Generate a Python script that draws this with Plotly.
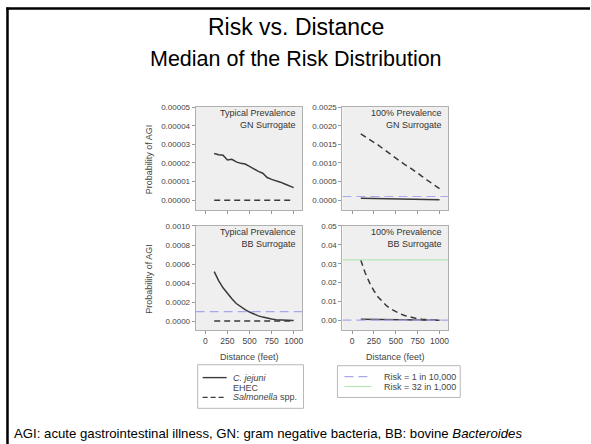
import plotly.graph_objects as go

W, H = 591, 444

# ---------------- data ----------------
distance = [100, 150, 200, 250, 300, 350, 400, 450, 500, 550,
            600, 650, 700, 750, 800, 850, 900, 950, 1000]

# Typical prevalence, GN surrogate
tl_cjejuni = [2.51e-5, 2.44e-5, 2.42e-5, 2.16e-5, 2.20e-5, 2.06e-5, 1.98e-5, 1.94e-5, 1.82e-5, 1.68e-5,
              1.55e-5, 1.45e-5, 1.22e-5, 1.12e-5, 1.06e-5, 0.97e-5, 0.87e-5, 0.76e-5, 0.68e-5]
tl_ehec = [1e-8] * 19
tl_salmonella = [0.0] * 19

# 100% prevalence, GN surrogate
tr_cjejuni = [5.3e-5, 5.0e-5, 4.8e-5, 4.5e-5, 4.3e-5, 4.1e-5, 3.9e-5, 3.7e-5, 3.5e-5, 3.3e-5,
              3.1e-5, 2.9e-5, 2.7e-5, 2.5e-5, 2.3e-5, 2.1e-5, 1.9e-5, 1.7e-5, 1.5e-5]
tr_ehec = [1e-6] * 19
tr_salmonella = [1.78e-3, 1.71e-3, 1.63e-3, 1.56e-3, 1.48e-3, 1.39e-3, 1.30e-3, 1.21e-3, 1.12e-3, 1.04e-3,
                 0.96e-3, 0.89e-3, 0.82e-3, 0.73e-3, 0.64e-3, 0.55e-3, 0.47e-3, 0.39e-3, 0.31e-3]

# Typical prevalence, BB surrogate
bl_cjejuni = [5.2e-4, 4.25e-4, 3.5e-4, 2.9e-4, 2.35e-4, 1.85e-4, 1.5e-4, 1.2e-4, 0.95e-4, 0.72e-4,
              0.55e-4, 0.42e-4, 0.30e-4, 0.22e-4, 0.15e-4, 0.11e-4, 0.08e-4, 0.06e-4, 0.05e-4]
bl_ehec = [1e-7] * 19
bl_salmonella = [0.0] * 19

# 100% prevalence, BB surrogate
br_cjejuni = [6e-4, 5.5e-4, 5e-4, 4.5e-4, 4e-4, 3.5e-4, 3e-4, 2.6e-4, 2.2e-4, 1.9e-4,
              1.6e-4, 1.3e-4, 1.1e-4, 0.9e-4, 0.7e-4, 0.5e-4, 0.4e-4, 0.3e-4, 0.2e-4]
br_ehec = [1e-5] * 19
br_salmonella = [0.032, 0.0252, 0.0200, 0.0157, 0.0123, 0.0096, 0.0075, 0.0059, 0.0046, 0.0035,
                 0.0026, 0.0019, 0.0013, 0.0009, 0.0006, 0.0004, 0.0002, 0.0001, 0.0001]

risk_1_in_10000 = 1e-4
risk_32_in_1000 = 0.032

x_ticks = [0, 250, 500, 750, 1000]
x_range = [-110, 1100]

series_names = ["<i>C. jejuni</i>", "EHEC", "<i>Salmonella</i> spp."]
risk_names = ["Risk = 1 in 10,000", "Risk = 32 in 1,000"]

panels = [
    dict(cj=tl_cjejuni, eh=tl_ehec, sa=tl_salmonella,
         yt=[0, 1e-5, 2e-5, 3e-5, 4e-5, 5e-5],
         ytt=["0.00000", "0.00001", "0.00002", "0.00003", "0.00004", "0.00005"],
         yr=[-0.0000053, 0.00005], l1="Typical Prevalence", l2="GN Surrogate"),
    dict(cj=tr_cjejuni, eh=tr_ehec, sa=tr_salmonella,
         yt=[0, 5e-4, 1e-3, 1.5e-3, 2e-3, 2.5e-3],
         ytt=["0.0000", "0.0005", "0.0010", "0.0015", "0.0020", "0.0025"],
         yr=[-0.000266, 0.0025], l1="100% Prevalence", l2="GN Surrogate"),
    dict(cj=bl_cjejuni, eh=bl_ehec, sa=bl_salmonella,
         yt=[0, 2e-4, 4e-4, 6e-4, 8e-4, 1e-3],
         ytt=["0.0000", "0.0002", "0.0004", "0.0006", "0.0008", "0.0010"],
         yr=[-0.0000940, 0.001], l1="Typical Prevalence", l2="BB Surrogate"),
    dict(cj=br_cjejuni, eh=br_ehec, sa=br_salmonella,
         yt=[0, 0.01, 0.02, 0.03, 0.04, 0.05],
         ytt=["0.00", "0.01", "0.02", "0.03", "0.04", "0.05"],
         yr=[-0.0051, 0.05], l1="100% Prevalence", l2="BB Surrogate"),
]

# pixel boxes of the four panels (left, right, top, bottom)
boxes = [(196, 303, 104, 208), (343, 449, 104, 208),
         (196, 303, 224, 329), (343, 449, 224, 329)]


def fx(px):
    return px / W


def fy(py):
    return 1 - py / H


FONT = "Liberation Sans, Arial, sans-serif"
TXT = "#444444"
LINE = "#3a3a3a"
BLUE = "#a8a8ec"
GREEN = "#b6e6b6"
DASH_S = "6px,4px"
DASH_B = "9px,5px"

fig = go.Figure()
layout = dict(width=W, height=H, autosize=False, margin=dict(l=0, r=0, t=0, b=0),
              paper_bgcolor="white", plot_bgcolor="#efefef", showlegend=False)

annotations = []
shapes = []
for i, (p, b) in enumerate(zip(panels, boxes)):
    n = "" if i == 0 else str(i + 1)
    xa, ya = "x" + n, "y" + n
    fig.add_trace(go.Scatter(x=distance, y=p["cj"], mode="lines", xaxis=xa, yaxis=ya,
                             name=series_names[0], line=dict(color=LINE, width=1.5)))
    fig.add_trace(go.Scatter(x=distance, y=p["eh"], mode="lines", xaxis=xa, yaxis=ya,
                             name=series_names[1], line=dict(color="rgba(0,0,0,0)", width=1)))
    fig.add_trace(go.Scatter(x=distance, y=p["sa"], mode="lines", xaxis=xa, yaxis=ya,
                             name=series_names[2], line=dict(color=LINE, width=1.5, dash=DASH_S)))
    fig.add_trace(go.Scatter(x=x_range, y=[risk_1_in_10000] * 2, mode="lines", xaxis=xa, yaxis=ya,
                             name=risk_names[0], line=dict(color=BLUE, width=1.2, dash=DASH_B)))
    fig.add_trace(go.Scatter(x=x_range, y=[risk_32_in_1000] * 2, mode="lines", xaxis=xa, yaxis=ya,
                             name=risk_names[1], line=dict(color=GREEN, width=1.2)))

    l, r, t, btm = b
    bottom_row = i >= 2
    layout["xaxis" + n] = dict(domain=[fx(l), fx(r)], range=x_range, anchor=ya,
                               tickvals=x_ticks, showticklabels=bottom_row,
                               ticks="outside", ticklen=3, tickcolor="#999999",
                               showline=True, mirror=True, linecolor="#b0b0b0", linewidth=1,
                               showgrid=False, zeroline=False,
                               tickfont=dict(family=FONT, size=8.5, color=TXT))
    layout["yaxis" + n] = dict(domain=[fy(btm), fy(t)], range=p["yr"], anchor=xa,
                               tickvals=p["yt"], ticktext=p["ytt"],
                               ticks="outside", ticklen=3, tickcolor="#999999",
                               showline=True, mirror=True, linecolor="#b0b0b0", linewidth=1,
                               showgrid=False, zeroline=False,
                               tickfont=dict(family=FONT, size=8, color=TXT))
    annotations.append(dict(x=fx(r - 4), y=fy(t - 1), xref="paper", yref="paper",
                            xanchor="right", yanchor="top", align="right", showarrow=False,
                            text=p["l1"] + "<br>" + p["l2"],
                            font=dict(family=FONT, size=9, color="#333333")))
    if l == 196:
        annotations.append(dict(x=fx(149), y=fy((t + btm) / 2 + 1), xref="paper", yref="paper",
                                xanchor="center", yanchor="middle",
                                textangle=-90, showarrow=False, text="Probability of AGI",
                                font=dict(family=FONT, size=9, color=TXT)))
    if bottom_row:
        annotations.append(dict(x=fx((l + r) / 2), y=fy(356), xref="paper", yref="paper",
                                xanchor="center", yanchor="middle",
                                showarrow=False, text="Distance (feet)",
                                font=dict(family=FONT, size=9, color=TXT)))

# titles and caption
annotations += [
    dict(x=fx(297), y=fy(23), xref="paper", yref="paper", showarrow=False,
         xanchor="center", yanchor="middle",
         text="Risk vs. Distance", font=dict(family=FONT, size=23, color="black")),
    dict(x=fx(297), y=fy(56), xref="paper", yref="paper", showarrow=False,
         xanchor="center", yanchor="middle",
         text="Median of the Risk Distribution", font=dict(family=FONT, size=21.5, color="black")),
    dict(x=fx(12), y=fy(433), xref="paper", yref="paper", showarrow=False,
         xanchor="left", yanchor="middle",
         text="AGI: acute gastrointestinal illness, GN: gram negative bacteria, BB: bovine <i>Bacteroides</i>",
         font=dict(family=FONT, size=13.2, color="black")),
]

# ---------- legend boxes (compact, as in the reference) ----------
LEG_FONT = dict(family=FONT, size=9, color=TXT)
# legend 1: series
shapes.append(dict(type="rect", xref="paper", yref="paper", x0=fx(198), x1=fx(304),
                   y0=fy(408), y1=fy(364), line=dict(color="#b8b8b8", width=1), fillcolor="white"))
leg1_rows = [377, 387, 397]
leg1_styles = [dict(color=LINE, width=1.4), None, dict(color=LINE, width=1.4, dash="5px,3px")]
for name, yy, st in zip(series_names, leg1_rows, leg1_styles):
    if st is not None:
        shapes.append(dict(type="line", xref="paper", yref="paper", x0=fx(203), x1=fx(227),
                           y0=fy(yy), y1=fy(yy), line=st))
    annotations.append(dict(x=fx(231), y=fy(yy), xref="paper", yref="paper", showarrow=False,
                            xanchor="left", yanchor="middle", text=name, font=LEG_FONT))
# legend 2: risk thresholds
shapes.append(dict(type="rect", xref="paper", yref="paper", x0=fx(338), x1=fx(461),
                   y0=fy(397), y1=fy(365), line=dict(color="#b8b8b8", width=1), fillcolor="white"))
leg2_rows = [376, 386]
leg2_styles = [dict(color=BLUE, width=1.2, dash="9px,5px"), dict(color=GREEN, width=1.2)]
for name, yy, st in zip(risk_names, leg2_rows, leg2_styles):
    shapes.append(dict(type="line", xref="paper", yref="paper", x0=fx(345), x1=fx(372),
                       y0=fy(yy), y1=fy(yy), line=st))
    annotations.append(dict(x=fx(383), y=fy(yy), xref="paper", yref="paper", showarrow=False,
                            xanchor="left", yanchor="middle", text=name, font=LEG_FONT))

# slide frame (left and top)
shapes += [
    dict(type="line", xref="paper", yref="paper", x0=fx(7.5), x1=fx(7.5), y0=fy(3.5), y1=0,
         line=dict(color="black", width=2.5)),
    dict(type="line", xref="paper", yref="paper", x0=fx(6.3), x1=1, y0=fy(4.5), y1=fy(4.5),
         line=dict(color="black", width=2.5)),
]

layout["annotations"] = annotations
layout["shapes"] = shapes

fig.update_layout(**layout)
fig.write_html("out.html", config={"displayModeBar": False},
               post_script="document.body.style.margin='0';")
